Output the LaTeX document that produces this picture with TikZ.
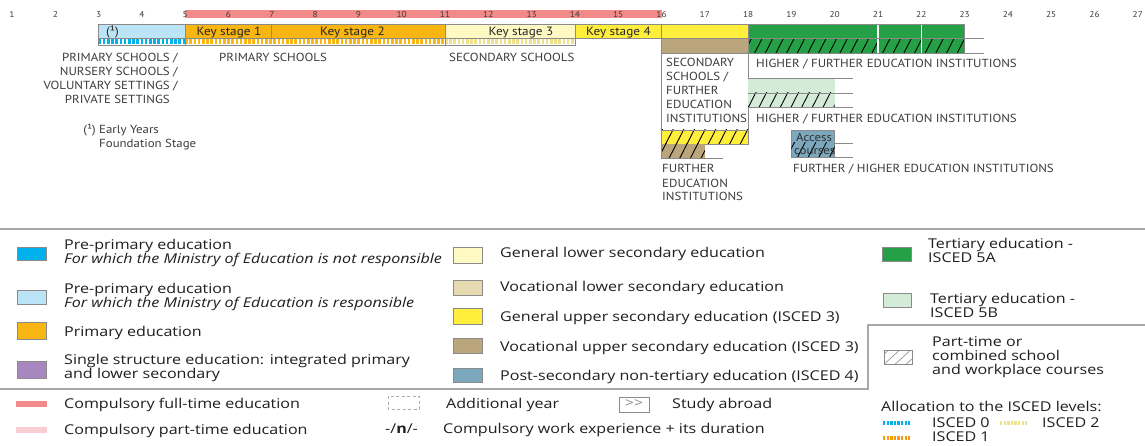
\documentclass[tikz,border=0pt]{standalone}
\usepackage{fontspec}
\setmainfont[FakeStretch=1.19]{Open Sans}
\newfontfamily\chartfont[FakeStretch=1.1]{PT Sans}
\usetikzlibrary{patterns.meta}

\definecolor{rulerred}{HTML}{F28A8A}
\definecolor{partpink}{HTML}{F9CDD2}
\definecolor{preprim}{HTML}{00B1EB}
\definecolor{preprimlt}{HTML}{BCE4F7}
\definecolor{primary}{HTML}{F9B512}
\definecolor{single}{HTML}{A886BE}
\definecolor{lowsec}{HTML}{FFF9C4}
\definecolor{voclow}{HTML}{E5DAB0}
\definecolor{uppsec}{HTML}{FFEE3C}
\definecolor{vocupp}{HTML}{BAA57C}
\definecolor{postsec}{HTML}{7CA8BE}
\definecolor{tert}{HTML}{25A046}
\definecolor{tertlt}{HTML}{D4EBD7}
\definecolor{rim}{HTML}{8A8A8A}
\definecolor{labelgray}{HTML}{3C3C3C}
\definecolor{sep}{HTML}{A8A8A8}
\definecolor{iscedtwo}{HTML}{EDE28A}

\tikzset{
  bar/.style={draw=rim, line width=0.8pt},
  tail/.style={draw=rim, line width=0.8pt},
  hatch/.style={pattern={Lines[angle=63,distance=9.5pt,line width=0.9pt]}, pattern color=black},
  strip/.style={line width=5pt, dash pattern=on 2.6pt off 1.6pt},
  ministrip/.style={line width=3.4pt, dash pattern=on 2.4pt off 1.2pt},
  agenum/.style={font=\chartfont\fontsize{8.5}{9}\selectfont, text=labelgray, inner sep=0pt, anchor=base},
  ks/.style={font=\chartfont\fontsize{12}{12}\selectfont, text=black!85, inner sep=0pt, anchor=base},
  lbl/.style={font=\chartfont\fontsize{11.7}{14}\selectfont, text=labelgray, inner sep=0pt},
  leg/.style={font=\fontsize{13.5}{14}\selectfont, text=black!88, inner sep=0pt, anchor=base west, align=left},
  swatch/.style={draw=rim, line width=0.8pt},
  seprule/.style={draw=sep, line width=1.2pt},
}

\begin{document}
\begin{tikzpicture}[x=1pt,y=-1pt]
\useasboundingbox (0,0) rectangle (1145,446);
\fill[white] (0,0) rectangle (1145,446);

% ---------- chart, x measured in years of age ----------
\begin{scope}[x=43.3pt, xshift=-31.3pt]
  % compulsory full-time band behind the age scale
  \fill[rulerred] (5,10) rectangle (16,18);
  \foreach \a in {1,...,27} \node[agenum] (age\a) at (\a,17.5) {\a};

  % pre-primary (ISCED 0)
  \filldraw[bar, fill=preprimlt] (3,24) rectangle (5,38.5);
  \fill[white] (3,38.5) rectangle (5,45);
  \draw[strip, preprim] (3,41.75) -- (5,41.75);
  \draw[bar] (3,38.5) rectangle (5,45);

  % primary schools (ISCED 1)
  \filldraw[bar, fill=primary] (5,24) rectangle (7,38.5);
  \filldraw[bar, fill=primary] (7,24) rectangle (11,38.5);
  \fill[white] (5,38.5) rectangle (11,45);
  \draw[strip, primary] (5,41.75) -- (11,41.75);
  \draw[bar] (5,38.5) rectangle (11,45);

  % lower secondary (ISCED 2)
  \filldraw[bar, fill=lowsec] (11,24) rectangle (14,38.5);
  \fill[white] (11,38.5) rectangle (14,45);
  \draw[strip, iscedtwo] (11,41.75) -- (14,41.75);
  \draw[bar] (11,38.5) rectangle (14,45);

  % key stage 4
  \filldraw[bar, fill=uppsec] (14,24) rectangle (16,38.5);

  % upper secondary 16-18
  \filldraw[bar, fill=uppsec] (16,24) rectangle (18,38.5);
  \filldraw[bar, fill=vocupp] (16,38.5) rectangle (18,53.5);
  \draw[bar] (16,53.5) -- (16,130) (18,53.5) -- (18,130);
  \fill[uppsec] (16,130) rectangle (18,144);
  \fill[hatch] (16,130) rectangle (18,144);
  \draw[bar] (16,130) rectangle (18,144);
  \fill[vocupp] (16,144) rectangle (17,158);
  \fill[hatch] (16,144) rectangle (17,158);
  \draw[tail] (16,144) -- (16,158) -- (17.42,158);

  % tertiary ISCED 5A
  \fill[tert] (18,24) rectangle (23,53);
  \fill[hatch] (18,38.5) rectangle (23,53);
  \draw[white, line width=1.3pt] (21,24) -- (21,53) (22,24) -- (22,53);
  \draw[bar] (18,53) -- (18,24) -- (23,24) -- (23,53);
  \draw[tail] (18,38.5) -- (23.45,38.5) (18,53) -- (23.45,53);

  % tertiary ISCED 5B
  \fill[tertlt] (18,78) rectangle (20,107);
  \fill[hatch] (18,93) rectangle (20,107);
  \draw[tail] (18,78) -- (20.42,78) (18,93) -- (20.42,93) (18,107) -- (20.42,107);

  % access courses (ISCED 4)
  \filldraw[bar, fill=postsec] (19,130) rectangle (20,157);
  \fill[hatch] (19,143) rectangle (20,157);
  \draw[tail] (20,143) -- (20.42,143) (20,157) -- (20.42,157);
\end{scope}

% ---------- texts inside the bars ----------
\node[ks, anchor=base west] (fnmark) at (106,35.5) {(¹)};
\node[ks] (ks1) at (229,35.5) {Key stage 1};
\node[ks] (ks2) at (352.5,35.5) {Key stage 2};
\node[ks] (ks3) at (521,35.5) {Key stage 3};
\node[ks] (ks4) at (618.5,35.5) {Key stage 4};
\node[lbl, text=labelgray!80!black, anchor=base west] (acc1) at (796,141.5) {Access};
\node[lbl, text=labelgray!80!black, anchor=base west] (acc2) at (794,155) {courses};

% ---------- institution labels (base = last line) ----------
\node[lbl, align=right, anchor=base east] (presch) at (178,103.5)
  {PRIMARY SCHOOLS /\\NURSERY SCHOOLS /\\VOLUNTARY SETTINGS /\\PRIVATE SETTINGS\hspace*{8pt}};
\node[lbl, align=left, anchor=base west] (eyfs) at (99,147.5)
  {\llap{(¹) }Early Years\\Foundation Stage};
\node[lbl, anchor=base west] (primsch) at (219,61.5) {PRIMARY SCHOOLS};
\node[lbl, anchor=base west] (secsch) at (449,61.5) {SECONDARY SCHOOLS};
\node[lbl, align=left, anchor=base west] (secfe) at (666,123)
  {SECONDARY\\SCHOOLS /\\FURTHER\\EDUCATION\\INSTITUTIONS};
\node[lbl, anchor=base west] (hfe1) at (756,68) {HIGHER / FURTHER EDUCATION INSTITUTIONS};
\node[lbl, anchor=base west] (hfe2) at (756,123) {HIGHER / FURTHER EDUCATION INSTITUTIONS};
\node[lbl, anchor=base west] (fhe) at (793,173) {FURTHER / HIGHER EDUCATION INSTITUTIONS};
\node[lbl, align=left, anchor=base west] (fe) at (662,201)
  {FURTHER\\EDUCATION\\INSTITUTIONS};

% ---------- legend frame ----------
\draw[seprule] (0,229) -- (1145,229);
\draw[seprule] (0,389) -- (868,389) -- (868,325) -- (1145,325);

% left column
\filldraw[swatch, fill=preprim] (17,247) rectangle (46.5,260);
\node[leg] (l1) at (64,264) {Pre-primary education\\\textit{For which the Ministry of Education is not responsible}};
\filldraw[swatch, fill=preprimlt] (17,290) rectangle (46.5,304);
\node[leg] (l2) at (64,307) {Pre-primary education\\\textit{For which the Ministry of Education is responsible}};
\filldraw[swatch, fill=primary] (17,322) rectangle (46.5,339);
\node[leg] (l3) at (64,336) {Primary education};
\filldraw[swatch, fill=single] (17,361) rectangle (46.5,378);
\node[leg] (l4) at (64,378) {Single structure education: integrated primary\\and lower secondary};
\fill[rulerred] (16,401) rectangle (46.5,407);
\node[leg] (l5) at (64,408) {Compulsory full-time education};
\fill[partpink] (16,427) rectangle (46.5,433);
\node[leg] (l6) at (64,434) {Compulsory part-time education};

% middle column
\filldraw[swatch, fill=lowsec] (453,247) rectangle (482,263);
\node[leg] (m1) at (500,258) {General lower secondary education};
\filldraw[swatch, fill=voclow] (453,280) rectangle (482,295);
\node[leg] (m2) at (500,291) {Vocational lower secondary education};
\filldraw[swatch, fill=uppsec] (453,308) rectangle (482,324);
\node[leg] (m3) at (500,321.5) {General upper secondary education (ISCED 3)};
\filldraw[swatch, fill=vocupp] (453,338) rectangle (482,353);
\node[leg] (m4) at (500,351) {Vocational upper secondary education (ISCED 3)};
\filldraw[swatch, fill=postsec] (453,368) rectangle (482,382);
\node[leg] (m5) at (500,380) {Post-secondary non-tertiary education (ISCED 4)};

% bottom rows
\draw[rim!70, line width=0.7pt, dash pattern=on 3pt off 2.5pt] (388,396) rectangle (419,409);
\node[leg] (addyr) at (446,408) {Additional year};
\draw[rim, line width=0.8pt] (619,397) rectangle (649,412);
\node[font=\fontsize{13}{13}\selectfont, text=rim, inner sep=0pt] (abroadmark) at (634,404) {>{}>};
\node[leg] (abroad) at (672,408) {Study abroad};
\node[leg] (workmark) at (385,433) {-/\textbf{n}/-};
\node[leg] (work) at (443,433) {Compulsory work experience + its duration};

% right column
\filldraw[swatch, fill=tert] (882,247) rectangle (911.5,261);
\node[leg] (r1) at (928,262.5) {Tertiary education -\\ISCED 5A};
\filldraw[swatch, fill=tertlt] (883,293) rectangle (911.5,307.5);
\node[leg] (r2) at (930,317) {Tertiary education -\\ISCED 5B};
\begin{scope}
  \clip (884,350) rectangle (912,364);
  \draw[rim, line width=0.6pt] (880,368) -- (904,346) (891,368) -- (915,346) (869,368) -- (893,346) (902,368) -- (926,346);
\end{scope}
\draw[rim, line width=0.6pt] (884,350) rectangle (912,364);
\node[leg] (r3) at (932,374) {Part-time or\\combined school\\and workplace courses};

\node[leg] (alloc) at (881,411) {Allocation to the ISCED levels:};
\fill[white] (883,421) rectangle (910,425);
\draw[ministrip, preprim] (883,423) -- (910,423);
\node[leg] (i0) at (932,427) {ISCED 0};
\draw[ministrip, iscedtwo] (1000,423) -- (1027,423);
\node[leg] (i2) at (1042,427) {ISCED 2};
\draw[ministrip, primary!85!red] (883,438) -- (910,438);
\node[leg] (i1) at (932,441) {ISCED 1};
\end{tikzpicture}
\end{document}
